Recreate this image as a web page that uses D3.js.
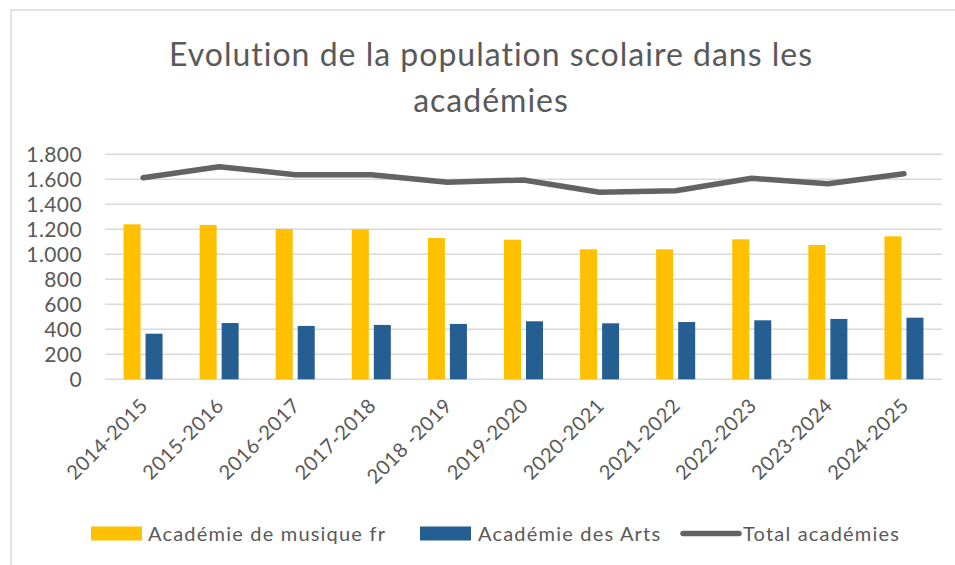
<!DOCTYPE html>
<html>
<head>
<meta charset="utf-8">
<script src="https://cdn.jsdelivr.net/npm/d3@7"></script>
<style>
  body { margin: 0; background: #fff; }
  text { font-family: Lato, "Open Sans", sans-serif; fill: #595959; }
</style>
</head>
<body>
<script>
var years = ["2014-2015","2015-2016","2016-2017","2017-2018","2018 -2019","2019-2020","2020-2021","2021-2022","2022-2023","2023-2024","2024-2025"];
var musique = [1240,1235,1203,1200,1130,1117,1040,1040,1120,1075,1144];
var arts = [365,450,427,435,443,464,448,458,472,483,493];
var total = [1613,1701,1637,1637,1576,1595,1496,1509,1608,1565,1645];
var yTicks = [0,200,400,600,800,1000,1200,1400,1600,1800];
var seriesNames = ["Académie de musique fr","Académie des Arts","Total académies"];
var colors = ["#FFC000","#255E91","#636363"];

var width = 955, height = 565;
var plotLeft = 105, plotRight = 942, plotTop = 154.3, plotBottom = 379.3;

var svg = d3.select("body").append("svg").attr("width",width).attr("height",height);

// chart frame (only top & left edges are visible in the crop)
svg.append("path")
    .attr("d","M11,565V10H955")
    .attr("fill","none")
    .attr("stroke","#d9d9d9")
    .attr("stroke-width",1.5);

// title
var title = svg.append("text")
    .attr("text-anchor","middle")
    .attr("font-size","32px")
    .attr("letter-spacing","1px");
title.append("tspan").attr("x",491).attr("y",66).text("Evolution de la population scolaire dans les");
title.append("tspan").attr("x",491).attr("y",112).text("académies");

var x = d3.scaleBand().domain(years).range([plotLeft,plotRight]);
var x1 = d3.scaleBand().domain([0,1]).range([-19.5,19.5]).paddingInner(0.227);
var y = d3.scaleLinear().domain([0,1800]).range([plotBottom,plotTop]);

// gridlines
svg.selectAll("line.grid").data(yTicks).enter().append("line")
    .attr("class","grid")
    .attr("x1",plotLeft).attr("x2",plotRight)
    .attr("y1",function(d) { return y(d); })
    .attr("y2",function(d) { return y(d); })
    .attr("stroke","#d9d9d9")
    .attr("stroke-width",1.5);

// y labels
var fmt = function(d) { return d3.format(",")(d).replace(/,/g,"."); };
svg.selectAll("text.ylab").data(yTicks).enter().append("text")
    .attr("class","ylab")
    .attr("x",82)
    .attr("y",function(d) { return y(d) + 7.5; })
    .attr("text-anchor","end")
    .attr("font-size","21px")
    .attr("letter-spacing","0.4px")
    .text(fmt);

// bars
svg.selectAll("rect.musique").data(musique).enter().append("rect")
    .attr("class","musique")
    .attr("x",function(d,i) { return x(years[i]) + x.bandwidth()/2 + x1(0); })
    .attr("width",x1.bandwidth())
    .attr("y",function(d) { return y(d); })
    .attr("height",function(d) { return y(0) - y(d); })
    .attr("fill",colors[0]);

svg.selectAll("rect.arts").data(arts).enter().append("rect")
    .attr("class","arts")
    .attr("x",function(d,i) { return x(years[i]) + x.bandwidth()/2 + x1(1); })
    .attr("width",x1.bandwidth())
    .attr("y",function(d) { return y(d); })
    .attr("height",function(d) { return y(0) - y(d); })
    .attr("fill",colors[1]);

// total line
var line = d3.line()
    .x(function(d,i) { return x(years[i]) + x.bandwidth()/2; })
    .y(function(d) { return y(d); });
svg.append("path")
    .datum(total)
    .attr("d",line)
    .attr("fill","none")
    .attr("stroke",colors[2])
    .attr("stroke-width",5.5)
    .attr("stroke-linecap","round")
    .attr("stroke-linejoin","round");

// x labels, rotated
svg.selectAll("text.xlab").data(years).enter().append("text")
    .attr("class","xlab")
    .attr("text-anchor","end")
    .attr("font-size","20px")
    .attr("letter-spacing","0.5px")
    .attr("transform",function(d) { return "translate(" + (x(d) + x.bandwidth()/2 + 6) + ",407) rotate(-45)"; })
    .text(function(d) { return d; });

// legend
var legX = [91,420,683];
svg.append("rect").attr("x",legX[0]).attr("y",526.5).attr("width",51).attr("height",14).attr("fill",colors[0]);
svg.append("rect").attr("x",legX[1]).attr("y",526.5).attr("width",51).attr("height",14).attr("fill",colors[1]);
svg.append("line").attr("x1",legX[2]).attr("x2",legX[2]+56).attr("y1",533.5).attr("y2",533.5)
    .attr("stroke",colors[2]).attr("stroke-width",5.5).attr("stroke-linecap","round");
svg.selectAll("text.leg").data(seriesNames).enter().append("text")
    .attr("class","leg")
    .attr("x",function(d,i) { return [148,478,743][i]; })
    .attr("y",540.5)
    .attr("font-size","20px")
    .attr("letter-spacing","1.2px")
    .text(function(d) { return d; });
</script>
</body>
</html>
